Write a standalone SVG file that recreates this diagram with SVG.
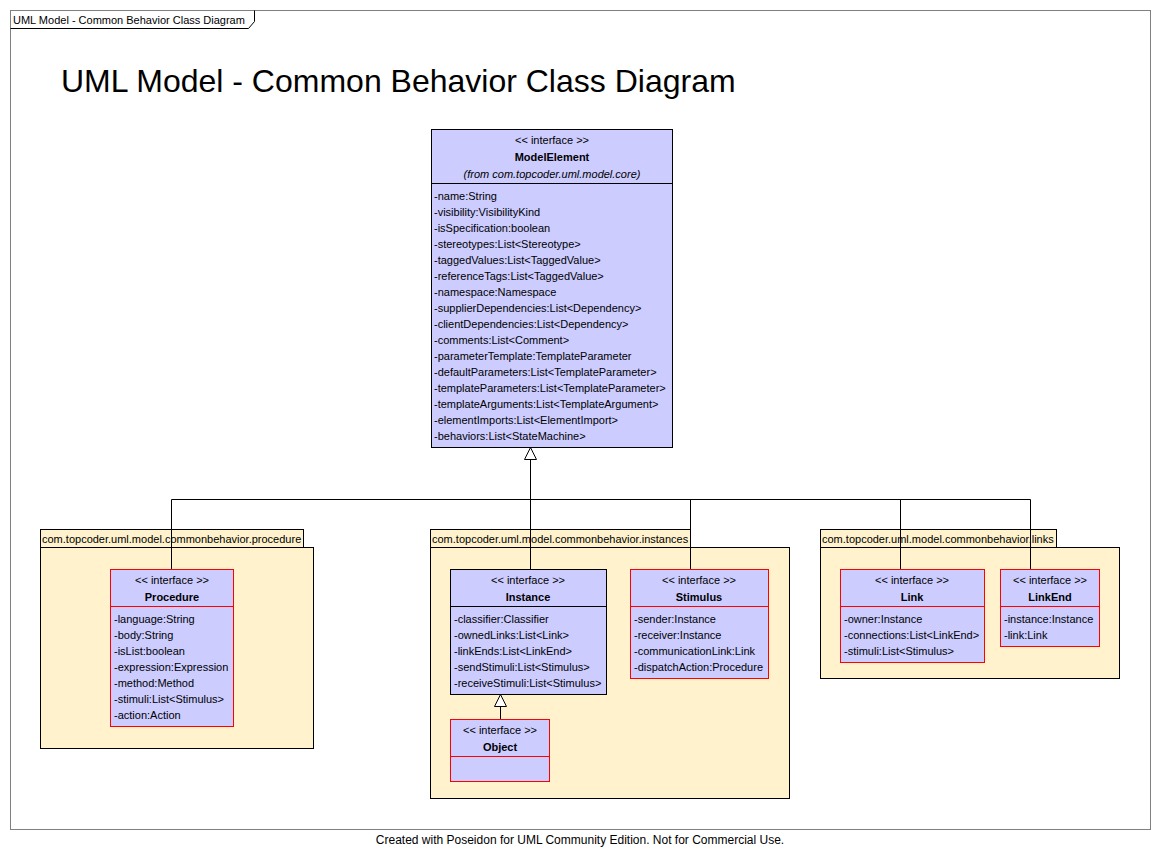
<svg xmlns="http://www.w3.org/2000/svg" width="1160" height="861" viewBox="0 0 1160 861">
<style>
text{font-family:"Liberation Sans",Arial,sans-serif;font-size:11px;fill:#000}
.c{text-anchor:middle}
.b{font-weight:bold}
.i{font-style:italic}
.pkg{fill:#FFF2CC;stroke:#000;stroke-width:1}
.cls{fill:#CCCCFF;stroke:#000;stroke-width:1}
.red{fill:#CCCCFF;stroke:#FF0000;stroke-width:1}
.sep{stroke:#000;stroke-width:1}
.sepr{stroke:#FF0000;stroke-width:1}
.ln{fill:none;stroke:#000;stroke-width:1}
.tri{fill:#fff;stroke:#000;stroke-width:1}
</style>
<rect x="0" y="0" width="1160" height="861" fill="#fff"/>
<g id="frame">
<rect x="10.5" y="10.5" width="1140" height="819" fill="none" stroke="#808080"/>
<path d="M10.5 28.5 H248.5 L254.5 21.5 V10.5" fill="none" stroke="#000"/>
<text x="13" y="24">UML Model - Common Behavior Class Diagram</text>
<text x="61" y="92" style="font-size:32px">UML Model - Common Behavior Class Diagram</text>
</g>
<g id="pkg-procedure">
<rect class="pkg" x="40.5" y="529.5" width="263" height="18"/>
<rect class="pkg" x="40.5" y="547.5" width="273" height="201"/>
<text x="42" y="543">com.topcoder.uml.model.commonbehavior.procedure</text>
</g>
<g id="pkg-instances">
<rect class="pkg" x="430.5" y="529.5" width="260" height="18"/>
<rect class="pkg" x="430.5" y="547.5" width="359" height="251"/>
<text x="432" y="543">com.topcoder.uml.model.commonbehavior.instances</text>
</g>
<g id="pkg-links">
<rect class="pkg" x="820.5" y="529.5" width="236" height="18"/>
<rect class="pkg" x="820.5" y="547.5" width="299" height="131"/>
<text x="822" y="543">com.topcoder.uml.model.commonbehavior.links</text>
</g>
<g id="connectors">
<path class="ln" d="M171.5 499.5 H1030.5"/>
<path class="ln" d="M530.5 460 V570"/>
<path class="ln" d="M171.5 499.5 V570"/>
<path class="ln" d="M690.5 499.5 V570"/>
<path class="ln" d="M900.5 499.5 V570"/>
<path class="ln" d="M1030.5 499.5 V570"/>
<path class="tri" d="M530.5 447.5 L524.5 459.5 L536.5 459.5 Z"/>
<path class="ln" d="M500.5 707 V719"/>
<path class="tri" d="M500.5 694.5 L494.5 706.5 L506.5 706.5 Z"/>
</g>
<g id="ModelElement">
<rect class="cls" x="431.5" y="129.5" width="241" height="318"/>
<line class="sep" x1="431.5" y1="183.5" x2="672.5" y2="183.5"/>
<text class="c" x="552" y="144">&lt;&lt; interface &gt;&gt;</text>
<text class="c b" x="552" y="161">ModelElement</text>
<text class="c i" x="552" y="178">(from com.topcoder.uml.model.core)</text>
<text x="434" y="200">-name:String</text>
<text x="434" y="216">-visibility:VisibilityKind</text>
<text x="434" y="232">-isSpecification:boolean</text>
<text x="434" y="248">-stereotypes:List&lt;Stereotype&gt;</text>
<text x="434" y="264">-taggedValues:List&lt;TaggedValue&gt;</text>
<text x="434" y="280">-referenceTags:List&lt;TaggedValue&gt;</text>
<text x="434" y="296">-namespace:Namespace</text>
<text x="434" y="312">-supplierDependencies:List&lt;Dependency&gt;</text>
<text x="434" y="328">-clientDependencies:List&lt;Dependency&gt;</text>
<text x="434" y="344">-comments:List&lt;Comment&gt;</text>
<text x="434" y="360">-parameterTemplate:TemplateParameter</text>
<text x="434" y="376">-defaultParameters:List&lt;TemplateParameter&gt;</text>
<text x="434" y="392">-templateParameters:List&lt;TemplateParameter&gt;</text>
<text x="434" y="408">-templateArguments:List&lt;TemplateArgument&gt;</text>
<text x="434" y="424">-elementImports:List&lt;ElementImport&gt;</text>
<text x="434" y="440">-behaviors:List&lt;StateMachine&gt;</text>
</g>
<g id="Procedure">
<rect class="red" x="110.5" y="569.5" width="123" height="157"/>
<line class="sepr" x1="110.5" y1="606.5" x2="233.5" y2="606.5"/>
<text class="c" x="172" y="584">&lt;&lt; interface &gt;&gt;</text>
<text class="c b" x="172" y="601">Procedure</text>
<text x="114" y="623">-language:String</text>
<text x="114" y="639">-body:String</text>
<text x="114" y="655">-isList:boolean</text>
<text x="114" y="671">-expression:Expression</text>
<text x="114" y="687">-method:Method</text>
<text x="114" y="703">-stimuli:List&lt;Stimulus&gt;</text>
<text x="114" y="719">-action:Action</text>
</g>
<g id="Instance">
<rect class="cls" x="450.5" y="569.5" width="156" height="125"/>
<line class="sep" x1="450.5" y1="606.5" x2="606.5" y2="606.5"/>
<text class="c" x="528" y="584">&lt;&lt; interface &gt;&gt;</text>
<text class="c b" x="528" y="601">Instance</text>
<text x="454" y="623">-classifier:Classifier</text>
<text x="454" y="639">-ownedLinks:List&lt;Link&gt;</text>
<text x="454" y="655">-linkEnds:List&lt;LinkEnd&gt;</text>
<text x="454" y="671">-sendStimuli:List&lt;Stimulus&gt;</text>
<text x="454" y="687">-receiveStimuli:List&lt;Stimulus&gt;</text>
</g>
<g id="Object">
<rect class="red" x="450.5" y="719.5" width="99" height="62"/>
<line class="sepr" x1="450.5" y1="756.5" x2="549.5" y2="756.5"/>
<text class="c" x="500" y="734">&lt;&lt; interface &gt;&gt;</text>
<text class="c b" x="500" y="751">Object</text>
</g>
<g id="Stimulus">
<rect class="red" x="630.5" y="569.5" width="138" height="109"/>
<line class="sepr" x1="630.5" y1="606.5" x2="768.5" y2="606.5"/>
<text class="c" x="699" y="584">&lt;&lt; interface &gt;&gt;</text>
<text class="c b" x="699" y="601">Stimulus</text>
<text x="634" y="623">-sender:Instance</text>
<text x="634" y="639">-receiver:Instance</text>
<text x="634" y="655">-communicationLink:Link</text>
<text x="634" y="671">-dispatchAction:Procedure</text>
</g>
<g id="Link">
<rect class="red" x="840.5" y="569.5" width="144" height="93"/>
<line class="sepr" x1="840.5" y1="606.5" x2="984.5" y2="606.5"/>
<text class="c" x="912" y="584">&lt;&lt; interface &gt;&gt;</text>
<text class="c b" x="912" y="601">Link</text>
<text x="844" y="623">-owner:Instance</text>
<text x="844" y="639">-connections:List&lt;LinkEnd&gt;</text>
<text x="844" y="655">-stimuli:List&lt;Stimulus&gt;</text>
</g>
<g id="LinkEnd">
<rect class="red" x="1000.5" y="569.5" width="99" height="77"/>
<line class="sepr" x1="1000.5" y1="606.5" x2="1099.5" y2="606.5"/>
<text class="c" x="1050" y="584">&lt;&lt; interface &gt;&gt;</text>
<text class="c b" x="1050" y="601">LinkEnd</text>
<text x="1004" y="623">-instance:Instance</text>
<text x="1004" y="639">-link:Link</text>
</g>
<g id="footer">
<text class="c" x="580" y="844" style="font-size:12px">Created with Poseidon for UML Community Edition. Not for Commercial Use.</text>
</g>
</svg>
